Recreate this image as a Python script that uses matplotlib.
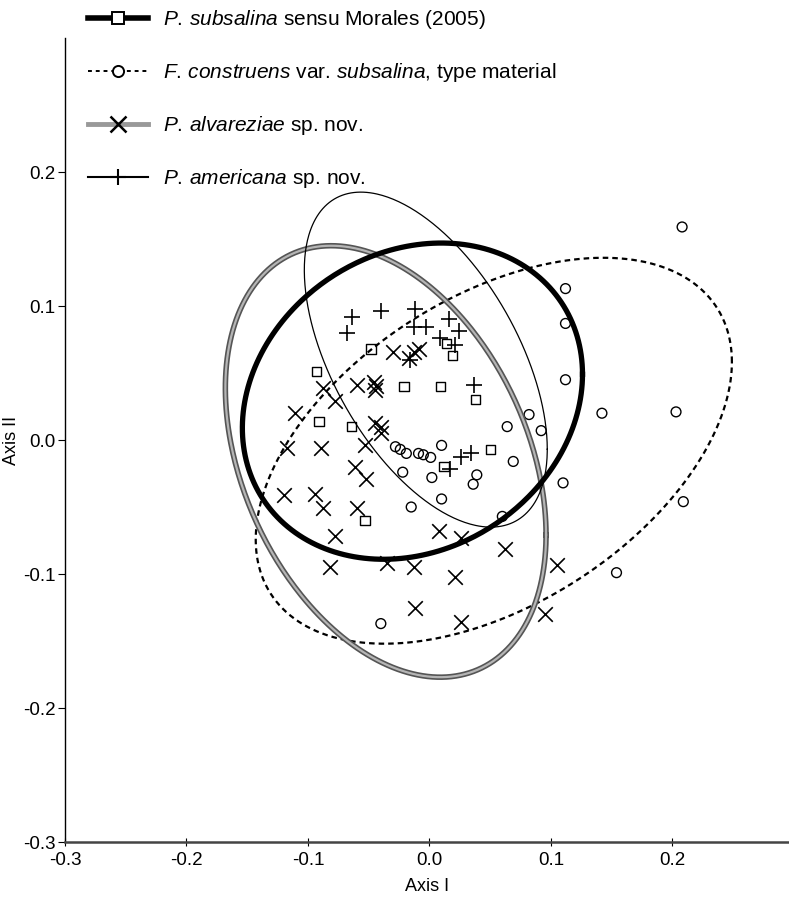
import numpy as np
import matplotlib
matplotlib.use("Agg")
import matplotlib.pyplot as plt
from matplotlib.lines import Line2D

plt.rcParams['font.family'] = ['Liberation Sans', 'DejaVu Sans']
plt.rcParams['mathtext.fontset'] = 'custom'
plt.rcParams['mathtext.rm'] = 'Liberation Sans'
plt.rcParams['mathtext.it'] = 'Liberation Sans:italic'

# P. subsalina sensu Morales (2005) - squares
sub_x = [-0.048, -0.093, 0.014, 0.019, -0.021, 0.009, 0.038, -0.091, -0.064, 0.050, 0.012, -0.053]
sub_y = [0.068, 0.051, 0.072, 0.063, 0.040, 0.040, 0.030, 0.014, 0.010, -0.007, -0.020, -0.060]

# F. construens var. subsalina, type material - circles
con_x = [0.208, 0.112, 0.112, 0.112, 0.142, 0.203, 0.082, 0.064, 0.092, 0.110, 0.209, 0.154,
         0.069, 0.039, 0.036, 0.010, -0.028, -0.024, -0.019, -0.009, -0.005, 0.001, 0.002,
         -0.022, 0.010, -0.015, 0.060, -0.040]
con_y = [0.159, 0.113, 0.087, 0.045, 0.020, 0.021, 0.019, 0.010, 0.007, -0.032, -0.046, -0.099,
         -0.016, -0.026, -0.033, -0.004, -0.005, -0.007, -0.010, -0.010, -0.011, -0.013, -0.028,
         -0.024, -0.044, -0.050, -0.057, -0.137]

# P. alvareziae sp. nov. - x
alv_x = [-0.030, -0.017, -0.013, -0.009, -0.060, -0.046, -0.044, -0.045, -0.088, -0.078, -0.111,
         -0.045, -0.040, -0.040, -0.117, -0.089, -0.053, -0.061, -0.052, -0.120, -0.094, -0.088,
         -0.060, -0.078, -0.082, -0.035, -0.013, 0.008, 0.026, 0.062, 0.021, 0.105, -0.012,
         0.026, 0.095]
alv_y = [0.066, 0.061, 0.066, 0.068, 0.041, 0.043, 0.040, 0.037, 0.039, 0.029, 0.020, 0.013,
         0.010, 0.005, -0.006, -0.006, -0.004, -0.020, -0.029, -0.041, -0.040, -0.051, -0.051,
         -0.072, -0.095, -0.092, -0.095, -0.068, -0.073, -0.081, -0.102, -0.093, -0.125,
         -0.136, -0.130]

# P. americana sp. nov. - plus
ame_x = [-0.064, -0.040, -0.068, -0.012, -0.013, -0.003, 0.016, 0.024, 0.009, 0.021, 0.037,
         0.026, 0.034, 0.017, -0.016]
ame_y = [0.092, 0.096, 0.080, 0.098, 0.084, 0.084, 0.090, 0.081, 0.076, 0.071, 0.041,
         -0.013, -0.010, -0.022, 0.060]

# ellipses: centre x, centre y, half width, half height, correlation
ell_sub = [-0.014, 0.029, 0.140, 0.118, 0.17]
ell_con = [0.053, -0.008, 0.196, 0.144, 0.46]
ell_alv = [-0.036, -0.016, 0.132, 0.161, -0.34]
ell_ame = [-0.003, 0.060, 0.100, 0.125, -0.535]

labels = [r'$\it{P.}\,\it{subsalina}$ sensu Morales (2005)',
          r'$\it{F.}\,\it{construens}$ var. $\it{subsalina}$, type material',
          r'$\it{P.}\,\it{alvareziae}$ sp. nov.',
          r'$\it{P.}\,\it{americana}$ sp. nov.']


def ellipse(p):
    t = np.linspace(0, 2 * np.pi, 400)
    phi = np.arccos(p[4])
    return p[0] + p[2] * np.cos(t), p[1] + p[3] * np.cos(t - phi)


fig = plt.figure(figsize=(7.89, 8.99), dpi=100)
ax = fig.add_axes([0.0824, 0.0634, 0.9176, 0.8943])

ex, ey = ellipse(ell_con)
ax.plot(ex, ey, color='black', lw=1.6, linestyle=(0, (2.5, 1.8)))
ex, ey = ellipse(ell_alv)
ax.plot(ex, ey, color='#555555', lw=4.0)
ax.plot(ex, ey, color='#b5b5b5', lw=1.6)
ex, ey = ellipse(ell_ame)
ax.plot(ex, ey, color='black', lw=0.9)
ex, ey = ellipse(ell_sub)
ax.plot(ex, ey, color='black', lw=3.8)

ax.scatter(sub_x, sub_y, marker='s', s=45, facecolors='none', edgecolors='black', linewidths=1.0)
ax.scatter(con_x, con_y, marker='o', s=50, facecolors='none', edgecolors='black', linewidths=1.0)
ax.scatter(alv_x, alv_y, marker='x', s=110, color='black', linewidths=1.2)
ax.scatter(ame_x, ame_y, marker='+', s=120, color='black', linewidths=1.2)

ax.set_xlim(-0.3, 0.296)
ax.set_ylim(-0.3, 0.3)
ax.set_xticks([-0.3, -0.2, -0.1, 0.0, 0.1, 0.2])
ax.set_yticks([-0.3, -0.2, -0.1, 0.0, 0.1, 0.2])
ax.set_xticklabels(['-0.3', '-0.2', '-0.1', '0.0', '0.1', '0.2'])
ax.set_yticklabels(['-0.3', '-0.2', '-0.1', '0.0', '0.1', '0.2'])
ax.spines['right'].set_color('none')
ax.spines['top'].set_color('none')
ax.spines['left'].set_linewidth(1.0)
ax.spines['bottom'].set_linewidth(1.8)
ax.spines['bottom'].set_color('#444444')
ax.tick_params(axis='y', direction='out', length=5, labelsize=13.5, pad=2)
ax.tick_params(axis='x', direction='inout', length=6, labelsize=13.5, pad=4)
ax.set_xlabel('Axis I', fontsize=13, labelpad=7)
ax.set_ylabel('Axis II', fontsize=13, labelpad=2)

handles = [
    Line2D([], [], color='black', lw=4.0, marker='s', markersize=9, markerfacecolor='white',
           markeredgecolor='black', markeredgewidth=1.4),
    Line2D([], [], color='black', lw=1.4, linestyle=(0, (2, 2)), marker='o', markersize=8,
           markerfacecolor='white', markeredgecolor='black', markeredgewidth=1.4),
    Line2D([], [], color='#999999', lw=3.5, marker='x', markersize=11,
           markeredgecolor='black', markeredgewidth=1.8),
    Line2D([], [], color='black', lw=1.5, marker='+', markersize=12,
           markeredgecolor='black', markeredgewidth=1.5),
]
fig.legend(handles, labels, loc='upper left', bbox_to_anchor=(0.111, 0.991),
           frameon=False, fontsize=15, handlelength=2.9, handletextpad=0.7,
           labelspacing=1.44, borderpad=0, borderaxespad=0, numpoints=1)

fig.savefig('out.png', dpi=100)
